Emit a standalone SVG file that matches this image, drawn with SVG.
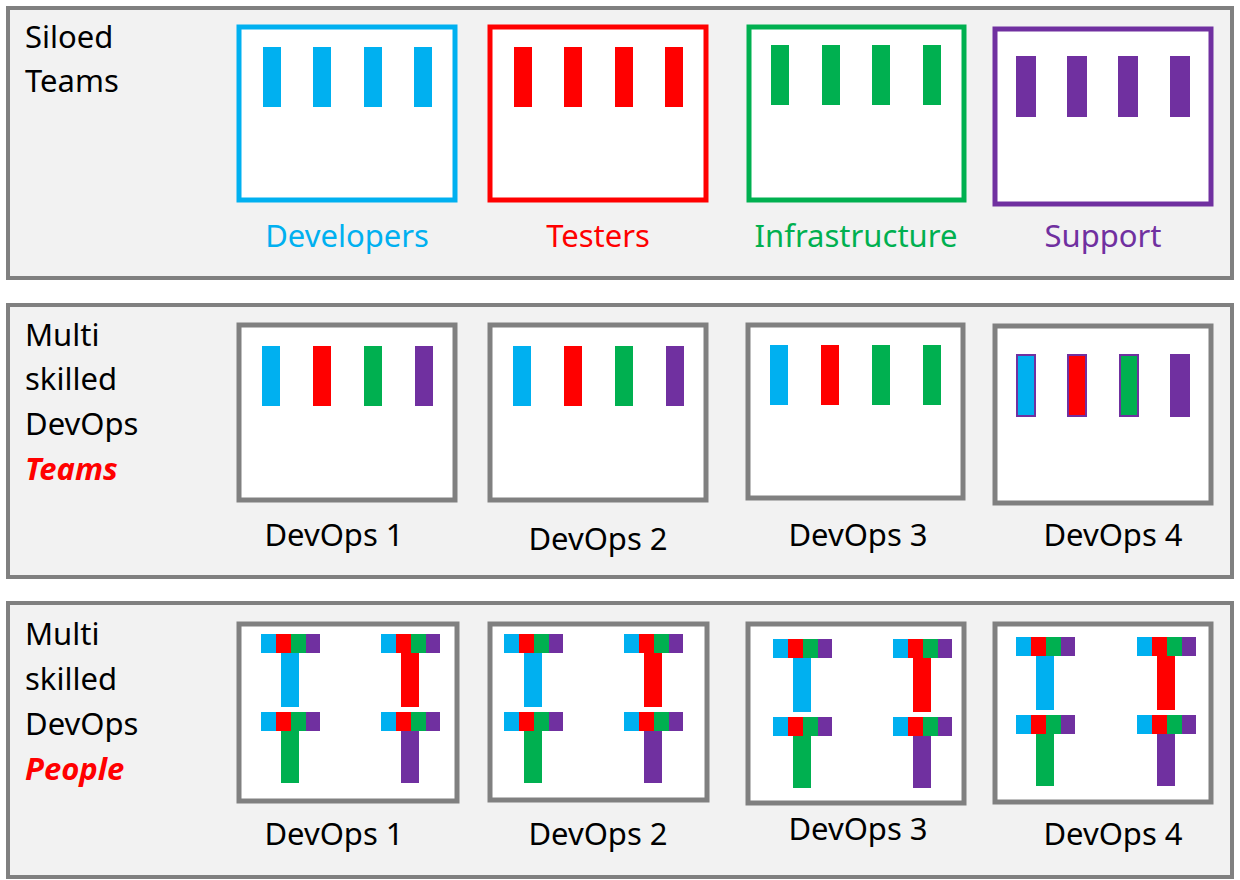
<svg xmlns="http://www.w3.org/2000/svg" xmlns:xlink="http://www.w3.org/1999/xlink" width="1240" height="880" viewBox="0 0 1240 880">
<style>
.panel{fill:#f2f2f2;stroke:#808080;stroke-width:4}
.gbox{fill:#fff;stroke:#808080;stroke-width:5}
.t{font-family:"Noto Sans","Liberation Sans",sans-serif;font-size:31px;fill:#000}
.lab{font-family:"Noto Sans","Liberation Sans",sans-serif;font-size:31px;text-anchor:middle}
.em{font-weight:bold;font-style:italic;fill:#ff0000}
.b{fill:#00b0f0}.r{fill:#ff0000}.g{fill:#00b050}.p{fill:#7030a0}
</style>
<defs>
<g id="bar"><rect class="b" x="0" y="0" width="15" height="19"/><rect class="r" x="15" y="0" width="15" height="19"/><rect class="g" x="30" y="0" width="15" height="19"/><rect class="p" x="45" y="0" width="14" height="19"/></g>
<g id="tb"><use xlink:href="#bar"/><rect class="b" x="20" y="19" width="18" height="54"/></g>
<g id="tr"><use xlink:href="#bar"/><rect class="r" x="20" y="19" width="18" height="54"/></g>
<g id="tg"><use xlink:href="#bar"/><rect class="g" x="20" y="19" width="18" height="52"/></g>
<g id="tp"><use xlink:href="#bar"/><rect class="p" x="20" y="19" width="18" height="52"/></g>
</defs>
<g id="panel1">
<rect class="panel" x="8" y="8" width="1224" height="270"/>
<text class="t" x="25" y="48">Siloed</text><text class="t" x="25" y="92">Teams</text>
</g>
<g id="developers">
<rect x="239" y="27" width="216" height="173" fill="#fff" stroke="#00b0f0" stroke-width="5"/>
<rect class="b" x="263" y="47" width="18" height="60"/><rect class="b" x="313" y="47" width="18" height="60"/><rect class="b" x="364" y="47" width="18" height="60"/><rect class="b" x="414" y="47" width="18" height="60"/>
<text class="lab" x="347" y="247" fill="#00b0f0">Developers</text>
</g>
<g id="testers">
<rect x="490" y="27" width="216" height="173" fill="#fff" stroke="#ff0000" stroke-width="5"/>
<rect class="r" x="514" y="47" width="18" height="60"/><rect class="r" x="564" y="47" width="18" height="60"/><rect class="r" x="615" y="47" width="18" height="60"/><rect class="r" x="665" y="47" width="18" height="60"/>
<text class="lab" x="598" y="247" fill="#ff0000">Testers</text>
</g>
<g id="infrastructure">
<rect x="749" y="27" width="215" height="173" fill="#fff" stroke="#00b050" stroke-width="5"/>
<rect class="g" x="771" y="45" width="18" height="60"/><rect class="g" x="822" y="45" width="18" height="60"/><rect class="g" x="872" y="45" width="18" height="60"/><rect class="g" x="923" y="45" width="18" height="60"/>
<text class="lab" x="856" y="247" fill="#00b050">Infrastructure</text>
</g>
<g id="support">
<rect x="995" y="29" width="216" height="175" fill="#fff" stroke="#7030a0" stroke-width="5"/>
<rect class="p" x="1016" y="56" width="20" height="61"/><rect class="p" x="1067" y="56" width="20" height="61"/><rect class="p" x="1118" y="56" width="20" height="61"/><rect class="p" x="1170" y="56" width="20" height="61"/>
<text class="lab" x="1103" y="247" fill="#7030a0">Support</text>
</g>
<g id="panel2">
<rect class="panel" x="8" y="305" width="1224" height="272"/>
<text class="t" x="25" y="346">Multi</text><text class="t" x="25" y="390">skilled</text><text class="t" x="25" y="435">DevOps</text><text class="t em" x="25" y="480">Teams</text>
</g>
<g id="team1">
<rect class="gbox" x="239" y="325" width="216" height="175"/>
<rect class="b" x="262" y="346" width="18" height="60"/><rect class="r" x="313" y="346" width="18" height="60"/><rect class="g" x="364" y="346" width="18" height="60"/><rect class="p" x="415" y="346" width="18" height="60"/>
<text class="lab" x="334" y="546">DevOps 1</text>
</g>
<g id="team2">
<rect class="gbox" x="490" y="325" width="216" height="175"/>
<rect class="b" x="513" y="346" width="18" height="60"/><rect class="r" x="564" y="346" width="18" height="60"/><rect class="g" x="615" y="346" width="18" height="60"/><rect class="p" x="666" y="346" width="18" height="60"/>
<text class="lab" x="598" y="550">DevOps 2</text>
</g>
<g id="team3">
<rect class="gbox" x="748" y="325" width="215" height="173"/>
<rect class="b" x="770" y="345" width="18" height="60"/><rect class="r" x="821" y="345" width="18" height="60"/><rect class="g" x="872" y="345" width="18" height="60"/><rect class="g" x="923" y="345" width="18" height="60"/>
<text class="lab" x="858" y="546">DevOps 3</text>
</g>
<g id="team4">
<rect class="gbox" x="995" y="326" width="216" height="177"/>
<g stroke="#7030a0" stroke-width="2">
<rect class="b" x="1017" y="355" width="18" height="61"/><rect class="r" x="1068" y="355" width="18" height="61"/><rect class="g" x="1120" y="355" width="18" height="61"/></g>
<rect class="p" x="1170" y="354" width="20" height="63"/>
<text class="lab" x="1113" y="546">DevOps 4</text>
</g>
<g id="panel3">
<rect class="panel" x="8" y="603" width="1224" height="274"/>
<text class="t" x="25" y="645">Multi</text><text class="t" x="25" y="690">skilled</text><text class="t" x="25" y="735">DevOps</text><text class="t em" x="25" y="780">People</text>
</g>
<g id="people1">
<rect class="gbox" x="239" y="624" width="218" height="177"/>
<use xlink:href="#tb" x="261" y="634"/><use xlink:href="#tr" x="381" y="634"/><use xlink:href="#tg" x="261" y="712"/><use xlink:href="#tp" x="381" y="712"/>
<text class="lab" x="334" y="845">DevOps 1</text>
</g>
<g id="people2">
<rect class="gbox" x="490" y="624" width="217" height="176"/>
<use xlink:href="#tb" x="504" y="634"/><use xlink:href="#tr" x="624" y="634"/><use xlink:href="#tg" x="504" y="712"/><use xlink:href="#tp" x="624" y="712"/>
<text class="lab" x="598" y="845">DevOps 2</text>
</g>
<g id="people3">
<rect class="gbox" x="748" y="624" width="216" height="179"/>
<use xlink:href="#tb" x="773" y="639"/><use xlink:href="#tr" x="893" y="639"/><use xlink:href="#tg" x="773" y="717"/><use xlink:href="#tp" x="893" y="717"/>
<text class="lab" x="858" y="840">DevOps 3</text>
</g>
<g id="people4">
<rect class="gbox" x="995" y="624" width="216" height="178"/>
<use xlink:href="#tb" x="1016" y="637"/><use xlink:href="#tr" x="1137" y="637"/><use xlink:href="#tg" x="1016" y="715"/><use xlink:href="#tp" x="1137" y="715"/>
<text class="lab" x="1113" y="845">DevOps 4</text>
</g>
<g id="connectors"/>
</svg>
